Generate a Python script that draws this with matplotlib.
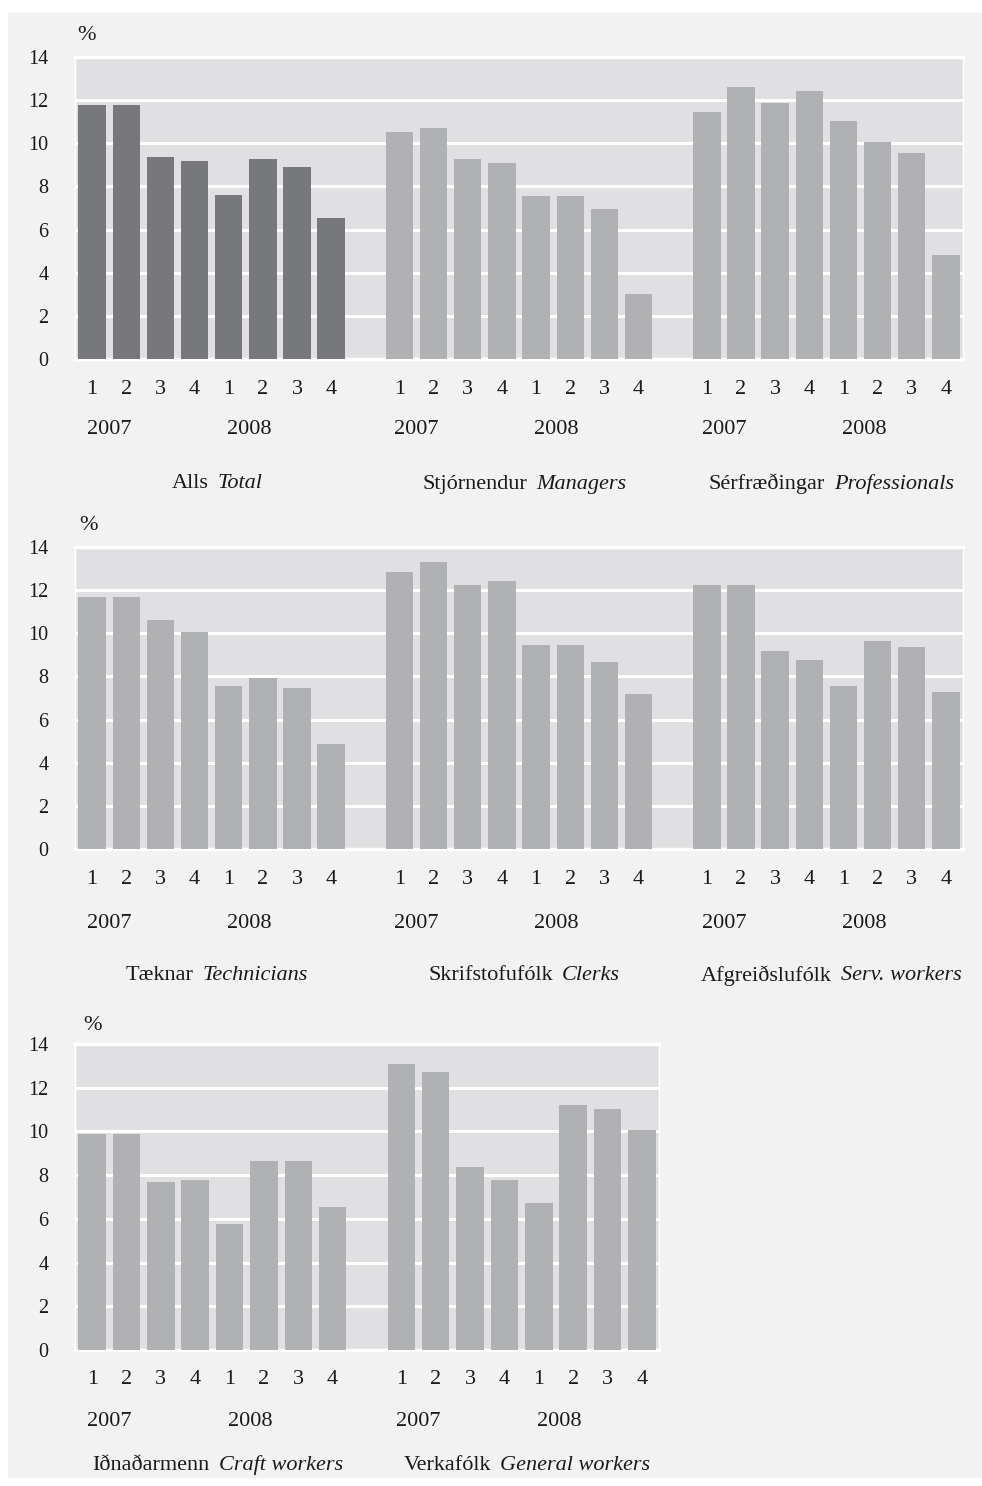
import matplotlib
matplotlib.use('Agg')
import matplotlib.pyplot as plt
from matplotlib.patches import Rectangle
from matplotlib.transforms import Affine2D, blended_transform_factory

plt.rcParams['font.family'] = ['Liberation Serif', 'DejaVu Serif']

W, H = 982, 1486

# ---------------- data ----------------
quarters = ['1', '2', '3', '4', '1', '2', '3', '4']
years = ['2007', '2008']

row1_is = ['Alls', 'Stjórnendur', 'Sérfræðingar']
row1_en = ['Total', 'Managers', 'Professionals']
total = [11.77, 11.77, 9.35, 9.17, 7.58, 9.26, 8.92, 6.55]
managers = [10.54, 10.73, 9.29, 9.10, 7.56, 7.56, 6.96, 3.00]
professionals = [11.43, 12.59, 11.89, 12.41, 11.01, 10.08, 9.57, 4.81]

row2_is = ['Tæknar', 'Skrifstofufólk', 'Afgreiðslufólk']
row2_en = ['Technicians', 'Clerks', 'Serv. workers']
technicians = [11.69, 11.69, 10.63, 10.08, 7.54, 7.95, 7.45, 4.89]
clerks = [12.85, 13.31, 12.25, 12.43, 9.48, 9.48, 8.69, 7.17]
serv_workers = [12.25, 12.25, 9.20, 8.78, 7.54, 9.66, 9.38, 7.26]

row3_is = ['Iðnaðarmenn', 'Verkafólk']
row3_en = ['Craft workers', 'General workers']
craft = [9.88, 9.88, 7.69, 7.78, 5.76, 8.66, 8.66, 6.54]
general = [13.07, 12.70, 8.38, 7.78, 6.73, 11.20, 11.02, 10.06]

yticks = [0, 2, 4, 6, 8, 10, 12, 14]

# ---------------- style ----------------
OUTER_BG = '#f2f2f2'
PLOT_BG = '#e0e0e2'
DARK = '#77787c'
LIGHT = '#b0b1b3'
TXT = '#1a1a1a'

fig = plt.figure(figsize=(W / 100, H / 100), dpi=100)
fig.patch.set_facecolor('white')
pix = Affine2D().scale(1, -1).translate(0, H)  # pixel coords, origin top-left

fig.patches.append(Rectangle((8, 13), W - 8, 1478 - 13, transform=pix,
                             facecolor=OUTER_BG, edgecolor='none', zorder=-10))

rows = [
    dict(top=57, bottom=359, right=963, groups=[total, managers, professionals],
         colors=[DARK, LIGHT, LIGHT], names_is=row1_is, names_en=row1_en,
         q_y=390, y_y=430, t_y=484, pct=(86, 35)),
    dict(top=547, bottom=849, right=963, groups=[technicians, clerks, serv_workers],
         colors=[LIGHT, LIGHT, LIGHT], names_is=row2_is, names_en=row2_en,
         q_y=880, y_y=924, t_y=976, pct=(88, 525)),
    dict(top=1044, bottom=1350, right=659, groups=[craft, general],
         colors=[LIGHT, LIGHT], names_is=row3_is, names_en=row3_en,
         q_y=1380, y_y=1421, t_y=1465, pct=(92, 1025)),
]

LEFT = 75
renderer = fig.canvas.get_renderer()


def two_part(xc, ypix, a, b, size=16):
    t1 = fig.text(0, ypix, a, transform=pix, fontsize=size, color=TXT,
                  ha='left', va='center')
    t2 = fig.text(0, ypix, b, transform=pix, fontsize=size, color=TXT,
                  ha='left', va='center', style='italic')
    w1 = t1.get_window_extent(renderer).width
    w2 = t2.get_window_extent(renderer).width
    gap = 9
    total_w = w1 + gap + w2
    x0 = xc - total_w / 2
    t1.set_x(x0)
    t2.set_x(x0 + w1 + gap)


for row in rows:
    ng = len(row['groups'])
    left_f = LEFT / W
    width_f = (row['right'] - LEFT) / W
    bottom_f = 1 - row['bottom'] / H
    height_f = (row['bottom'] - row['top']) / H
    ax = fig.add_axes([left_f, bottom_f, width_f, height_f])
    ax.set_facecolor(PLOT_BG)
    ax.set_xlim(-0.5, 9 * ng - 1.5)
    ax.set_ylim(0, 14)
    ax.set_axisbelow(True)
    ax.yaxis.grid(True, color='white', linewidth=2.2)
    ax.set_yticks(yticks)
    ax.set_yticklabels([str(v) for v in yticks])
    ax.tick_params(axis='y', length=0, pad=19, labelsize=14.5, labelcolor=TXT)
    ax.set_xticks([])
    for side in ['top', 'bottom']:
        ax.spines[side].set_color('white')
        ax.spines[side].set_linewidth(2.5)
    for side in ['left', 'right']:
        ax.spines[side].set_color('white')
        ax.spines[side].set_linewidth(1)

    bt = blended_transform_factory(ax.transData, pix)
    for g, (vals, col) in enumerate(zip(row['groups'], row['colors'])):
        pos = [9 * g + i for i in range(len(vals))]
        ax.bar(pos, vals, width=0.8, color=col, zorder=3, linewidth=0)
        for p, q in zip(pos, quarters):
            ax.text(p, row['q_y'], q, transform=bt, ha='center', va='center',
                    fontsize=16, color=TXT)
        ax.text(9 * g + 0.5, row['y_y'], years[0], transform=bt, ha='center',
                va='center', fontsize=16, color=TXT)
        ax.text(9 * g + 4.6, row['y_y'], years[1], transform=bt, ha='center',
                va='center', fontsize=16, color=TXT)
        xc = ax.transData.transform((9 * g + 3.65, 0))[0]
        two_part(xc, row['t_y'], row['names_is'][g], row['names_en'][g])

    fig.text(row['pct'][0], row['pct'][1], '%', transform=pix, ha='center',
             va='center', fontsize=16, color=TXT)

fig.savefig('out.png', dpi=100, facecolor=fig.get_facecolor())
